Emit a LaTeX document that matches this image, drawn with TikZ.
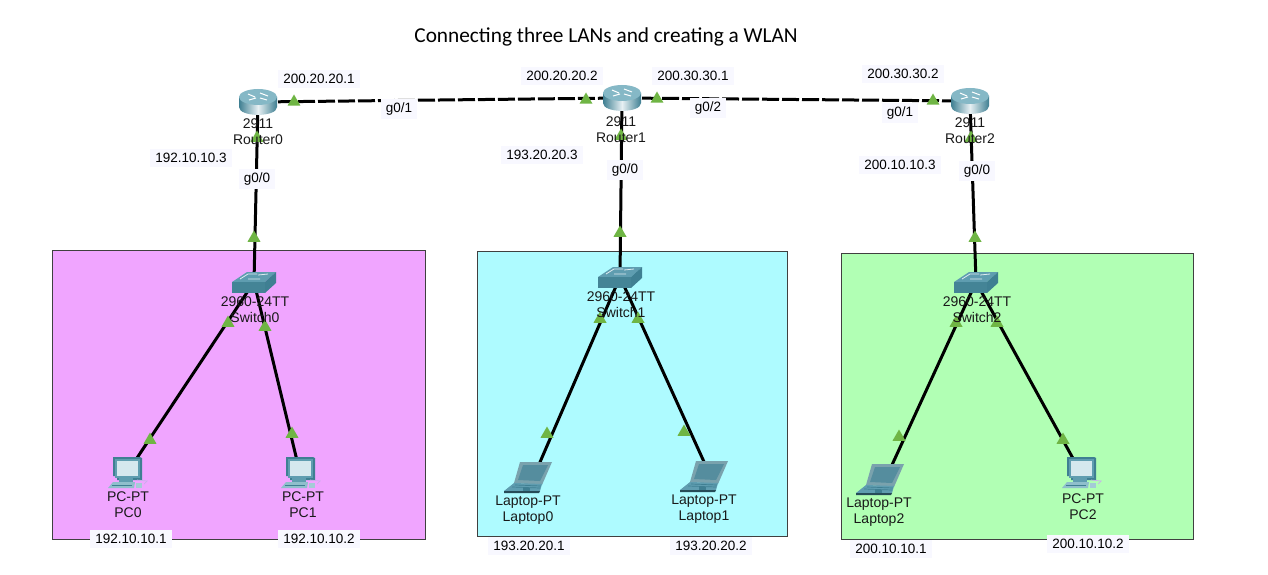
\documentclass[tikz,border=0pt]{standalone}
\usepackage{fontspec}
\setmainfont{Liberation Sans}
\newfontfamily\titlefont{Carlito}
\usetikzlibrary{shapes.geometric}
\definecolor{lanpink}{HTML}{F0A5FF}
\definecolor{lancyan}{HTML}{AEFBFF}
\definecolor{langreen}{HTML}{B1FFB4}
\definecolor{tagbg}{HTML}{F8F8FF}
\definecolor{tri}{HTML}{6FB544}
\definecolor{teal1}{HTML}{5F9DB0}
\definecolor{teal2}{HTML}{3F7F92}
\definecolor{teal3}{HTML}{8FBFCC}
\definecolor{screen}{HTML}{D5E8EE}
\tikzset{
  x=1pt,y=-1pt,
  lanbox/.style={draw=black!75,line width=0.8pt},
  tag/.style={fill=tagbg,inner xsep=5pt,inner ysep=4pt,yshift=-1pt,font=\fontsize{13.5}{15}\selectfont,text=black},
  devlabel/.style={align=center,inner sep=0pt,font=\fontsize{14}{16}\selectfont,text=black!90},
  link/.style={line width=3pt,black},
  wan/.style={link,dash pattern=on 17pt off 3pt},
  mark tri/.style={regular polygon,regular polygon sides=3,fill=tri,inner sep=0pt,minimum size=15pt,draw=none},
  devbox/.style={inner sep=0pt,minimum width=36pt,minimum height=26pt},
  pics/routericon/.style={code={
    \shade[left color=teal2,right color=teal2,middle color=white!85!teal1] (-19,-5) -- (-19,5) .. controls (-19,15.5) and (19,15.5) .. (19,5) -- (19,-5) -- cycle;
    \fill[teal3!80!teal1] (0,-5) ellipse[x radius=19,y radius=8];
    \draw[white,line width=1pt] (-10,-8) -- (-3,-5) (2,-9) -- (10,-6) (-9,-2) -- (-2,-4) (2,-4) -- (9,-2);
  }},
  pics/switchicon/.style={code={
    \fill[teal1] (-22,0) -- (-7,-10) -- (22,-10) -- (11,0) -- cycle;
    \fill[teal2!85!teal1] (-22,0) rectangle (11,11);
    \fill[teal2] (11,0) -- (22,-10) -- (22,1) -- (11,11) -- cycle;
    \draw[white!80!teal1,line width=0.8pt] (-14,-3) -- (-6,-8) -- (3,-8) (-6,-3) -- (6,-3) (4,-7) -- (14,-8);
  }},
  pics/pcicon/.style={code={
    \fill[teal2] (-14,-16) -- (13,-16) -- (15,-15) -- (15,7) -- (-10,7) -- (-10,3) -- (-14,3) -- cycle;
    \fill[teal1] (-12,-14) rectangle (13,5);
    \fill[screen] (-10,-12) rectangle (11,3);
    \fill[teal1] (-8,5) rectangle (6,9);
    \fill[teal3] (-14,9) -- (8,9) -- (7,15) -- (-19,15) -- cycle;
    \draw[teal2,line width=0.7pt] (-15,12) -- (5,12);
    \fill[teal3!70!screen] (9,10) rectangle (15,15);
    \draw[lanpink!60!teal3,line width=0.7pt] (10,7) -- (20,8) -- (17,11);
  }},
  pics/laptopicon/.style={code={
    \fill[teal3!85!black] (-14,-14) -- (18,-14) -- (8,9) -- (-20,7) -- cycle;
    \fill[teal1!90!black] (-11,-11) -- (14,-11) -- (6,5) -- (-16,4) -- cycle;
    \fill[teal1] (-20,7) -- (8,8) -- (6,15) -- (-30,15) -- cycle;
    \draw[teal2,line width=0.7pt] (-19,9) -- (7,10) (-22,11) -- (6,12);
    \fill[teal2] (-11,12) rectangle (-4,15);
    \fill[teal2!60!black] (6,15) -- (-30,15) -- (-30,17) -- (5,17) -- cycle;
  }},
}
\begin{document}
\begin{tikzpicture}
\useasboundingbox (0,0) rectangle (1268,575);
\fill[white] (0,0) rectangle (1268,575);
% LAN areas
\fill[lanpink] (52,250) rectangle (425,539);
\draw[lanbox] (52,250) rectangle (425,539);
\fill[lancyan] (477,251) rectangle (787,536);
\draw[lanbox] (477,251) rectangle (787,536);
\fill[langreen] (841,253) rectangle (1193,539);
\draw[lanbox] (841,253) rectangle (1193,539);
% title
\node[inner sep=0pt,font=\titlefont\fontsize{21.3}{24}\selectfont] (title) at (606,37) {Connecting three LANs and creating a WLAN};
% device anchors
\node[devbox] (r0) at (258,102) {};
\node[devbox] (r1) at (622,98) {};
\node[devbox] (r2) at (970,101) {};
\node[devbox] (s0) at (254,282) {};
\node[devbox] (s1) at (620,277) {};
\node[devbox] (s2) at (976,282) {};
\node[devbox] (pc0) at (127,473) {};
\node[devbox] (pc1) at (300,473) {};
\node[devbox] (lap0) at (534,476) {};
\node[devbox] (lap1) at (710,475) {};
\node[devbox] (lap2) at (886,478) {};
\node[devbox] (pc2) at (1081,473) {};
% links
\draw[wan] (r0.center) -- (r1.center);
\draw[wan] (r1.center) -- (r2.center);
\draw[link] (r0.center) -- (s0.center);
\draw[link] (r1.center) -- (s1.center);
\draw[link] (r2.center) -- (s2.center);
\draw[link] (s0.center) -- (pc0.center);
\draw[link] (s0.center) -- (pc1.center);
\draw[link] (s1.center) -- (lap0.center);
\draw[link] (s1.center) -- (lap1.center);
\draw[link] (s2.center) -- (lap2.center);
\draw[link] (s2.center) -- (pc2.center);
% icons
\pic at (r0) {routericon};
\pic at (r1) {routericon};
\pic at (r2) {routericon};
\pic at (s0) {switchicon};
\pic at (s1) {switchicon};
\pic at (s2) {switchicon};
\pic at (pc0) {pcicon};
\pic at (pc1) {pcicon};
\pic at (pc2) {pcicon};
\pic at (lap0) {laptopicon};
\pic at (lap1) {laptopicon};
\pic at (lap2) {laptopicon};
% link lights
\foreach \n/\x/\y in {t1/294/102,t2/586/100,t3/657/99,t4/933/101,t5/257/138,t6/621/136,t7/971/138,
  t8/254/238,t9/620/233,t10/975/238,
  t11/228/323,t12/265/327,t13/600/319,t14/638/319,t15/956/323,t16/997/323,
  t17/150/440,t18/292/434,t19/547/434,t20/684/432,t21/899/437,t22/1063/440}
  \node[mark tri] (\n) at (\x,\y) {};
% device labels
\node[devlabel] (lr0) at (258,132) {2911\\Router0};
\node[devlabel] (lr1) at (621,130) {2911\\Router1};
\node[devlabel] (lr2) at (970,131) {2911\\Router2};
\node[devlabel] (ls0) at (255,310) {2960-24TT\\Switch0};
\node[devlabel] (ls1) at (621,305) {2960-24TT\\Switch1};
\node[devlabel] (ls2) at (977,310) {2960-24TT\\Switch2};
\node[devlabel] (lpc0) at (128,505) {PC-PT\\PC0};
\node[devlabel] (lpc1) at (303,505) {PC-PT\\PC1};
\node[devlabel] (llap0) at (528,510) {Laptop-PT\\Laptop0};
\node[devlabel] (llap1) at (704,509) {Laptop-PT\\Laptop1};
\node[devlabel] (llap2) at (879,512) {Laptop-PT\\Laptop2};
\node[devlabel] (lpc2) at (1083,507) {PC-PT\\PC2};
% tags
\node[tag] (a1) at (319,78) {200.20.20.1};
\node[tag] (a2) at (562,75) {200.20.20.2};
\node[tag] (a3) at (693,75) {200.30.30.1};
\node[tag] (a4) at (903,73) {200.30.30.2};
\node[tag] (a5) at (191,157) {192.10.10.3};
\node[tag] (a6) at (542,154) {193.20.20.3};
\node[tag] (a7) at (900,164) {200.10.10.3};
\node[tag] (g1) at (399,108) {g0/1};
\node[tag] (g2) at (708,107) {g0/2};
\node[tag] (g3) at (900,112) {g0/1};
\node[tag] (g4) at (257,178) {g0/0};
\node[tag] (g5) at (625,169) {g0/0};
\node[tag] (g6) at (977,170) {g0/0};
\node[tag] (b1) at (131,538) {192.10.10.1};
\node[tag] (b2) at (319,538) {192.10.10.2};
\node[tag] (b3) at (529,545) {193.20.20.1};
\node[tag] (b4) at (711,545) {193.20.20.2};
\node[tag] (b5) at (891,548) {200.10.10.1};
\node[tag] (b6) at (1088,543) {200.10.10.2};
\end{tikzpicture}
\end{document}
